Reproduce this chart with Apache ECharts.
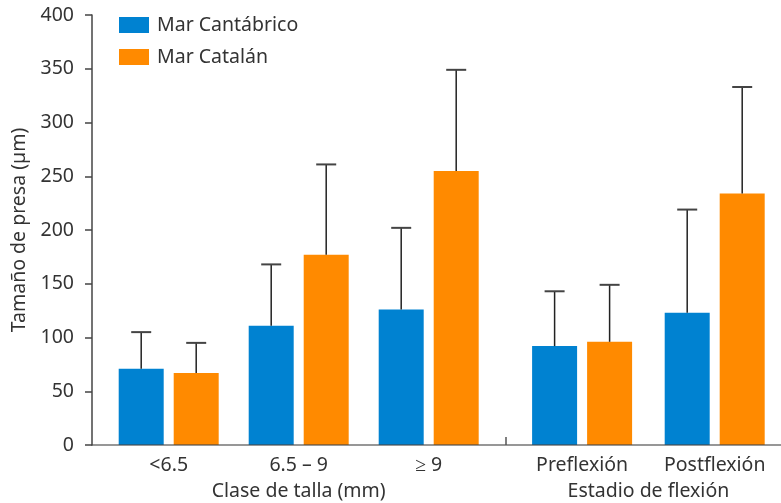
<!DOCTYPE html>
<html>
<head>
<meta charset="utf-8">
<script src="https://cdn.jsdelivr.net/npm/echarts@6/dist/echarts.min.js"></script>
<style>
  html, body { margin: 0; padding: 0; background: #fff; }
  #chart { width: 781px; height: 503px; }
</style>
</head>
<body>
<div id="chart"></div>
<script>
// Prey size by larval size class and flexion stage, two seas
const categories = ['<6.5', '6.5 – 9', '≥ 9', 'Preflexión', 'Postflexión'];
const categoryPos = [1, 2, 3, 4.18, 5.2];
const groupTitles = ['Clase de talla (mm)', 'Estadio de flexión'];
const groupTitlePos = [2, 4.69];
const groupDivider = [3.59];

const seriesNames = ['Mar Cantábrico', 'Mar Catalán'];
const cantabrico = [71, 111, 126, 92, 123];
const cantabricoUpper = [105, 168, 202, 143, 219];
const catalan = [67, 177, 255, 96, 234];
const catalanUpper = [95, 261, 349, 149, 333];

const yTicks = [0, 50, 100, 150, 200, 250, 300, 350, 400];

const colors = ['#0082d1', '#ff8a00'];
const FONT = 'Noto Sans';
const FS = 19.5;
const BAR_W = 45;
const BAR_GAP = 10;

const chart = echarts.init(document.getElementById('chart'));

function pairs(vals) {
  return vals.map((v, i) => [categoryPos[i], v]);
}

function errorSeries(name, means, upper, sign) {
  return {
    type: 'custom',
    name: name,
    z: 5,
    silent: true,
    data: upper.map((u, i) => [categoryPos[i], means[i], u]),
    renderItem: function (params, api) {
      const base = api.coord([api.value(0), api.value(1)]);
      const top = api.coord([api.value(0), api.value(2)]);
      const x = base[0] + sign * (BAR_W + BAR_GAP) / 2;
      const capHalf = 10;
      return {
        type: 'group',
        children: [
          { type: 'line', shape: { x1: x, y1: base[1], x2: x, y2: top[1] },
            style: { stroke: '#222', lineWidth: 1.5 } },
          { type: 'line', shape: { x1: x - capHalf, y1: top[1], x2: x + capHalf, y2: top[1] },
            style: { stroke: '#444', lineWidth: 2 } }
        ]
      };
    }
  };
}

chart.setOption({
  animation: false,
  textStyle: { fontFamily: FONT },
  color: colors,
  grid: { left: 92, right: 0, top: 15, bottom: 58, containLabel: false },
  legend: {
    data: seriesNames,
    orient: 'vertical',
    left: 114,
    top: 10,
    icon: 'rect',
    itemWidth: 30,
    itemHeight: 16,
    itemGap: 12,
    textStyle: { fontFamily: FONT, fontSize: FS, color: '#333', padding: [0, 0, 0, 3] }
  },
  xAxis: [
    {
      type: 'value',
      min: 0.41,
      max: 5.71,
      position: 'bottom',
      splitLine: { show: false },
      axisLine: { show: true, lineStyle: { color: 'rgba(70,70,70,0.75)', width: 1.5 } },
      axisTick: { show: true, inside: true, length: 8, customValues: groupDivider,
                  lineStyle: { color: '#555', width: 1.5 } },
      axisLabel: {
        customValues: categoryPos,
        formatter: function (v) {
          const i = categoryPos.findIndex(p => Math.abs(p - v) < 1e-6);
          return i >= 0 ? categories[i] : '';
        },
        margin: 10,
        fontFamily: FONT, fontSize: FS, color: '#333'
      },
      z: 10
    },
    {
      type: 'value',
      min: 0.41,
      max: 5.71,
      position: 'bottom',
      offset: 26,
      splitLine: { show: false },
      axisLine: { show: false },
      axisTick: { show: false },
      axisLabel: {
        customValues: groupTitlePos,
        formatter: function (v) {
          const i = groupTitlePos.findIndex(p => Math.abs(p - v) < 1e-6);
          return i >= 0 ? groupTitles[i] : '';
        },
        margin: 10,
        fontFamily: FONT, fontSize: FS, color: '#333'
      }
    }
  ],
  yAxis: {
    type: 'value',
    min: yTicks[0],
    max: yTicks[yTicks.length - 1],
    interval: 50,
    name: 'Tamaño de presa (µm)',
    nameLocation: 'middle',
    nameGap: 63,
    nameTextStyle: { fontFamily: FONT, fontSize: FS, color: '#333' },
    splitLine: { show: false },
    axisLine: { show: true, lineStyle: { color: '#444', width: 1.5 } },
    axisTick: { show: true, length: 7, lineStyle: { color: '#444', width: 1.5 } },
    axisLabel: { margin: 18, fontFamily: FONT, fontSize: FS, color: '#333' }
  },
  series: [
    {
      name: seriesNames[0], type: 'bar', xAxisIndex: 0,
      barWidth: BAR_W, barGap: (BAR_GAP / BAR_W * 100) + '%',
      data: pairs(cantabrico), itemStyle: { color: colors[0] }
    },
    {
      name: seriesNames[1], type: 'bar', xAxisIndex: 0,
      barWidth: BAR_W, barGap: (BAR_GAP / BAR_W * 100) + '%',
      data: pairs(catalan), itemStyle: { color: colors[1] }
    },
    errorSeries(seriesNames[0], cantabrico, cantabricoUpper, -1),
    errorSeries(seriesNames[1], catalan, catalanUpper, 1)
  ]
});
</script>
</body>
</html>
